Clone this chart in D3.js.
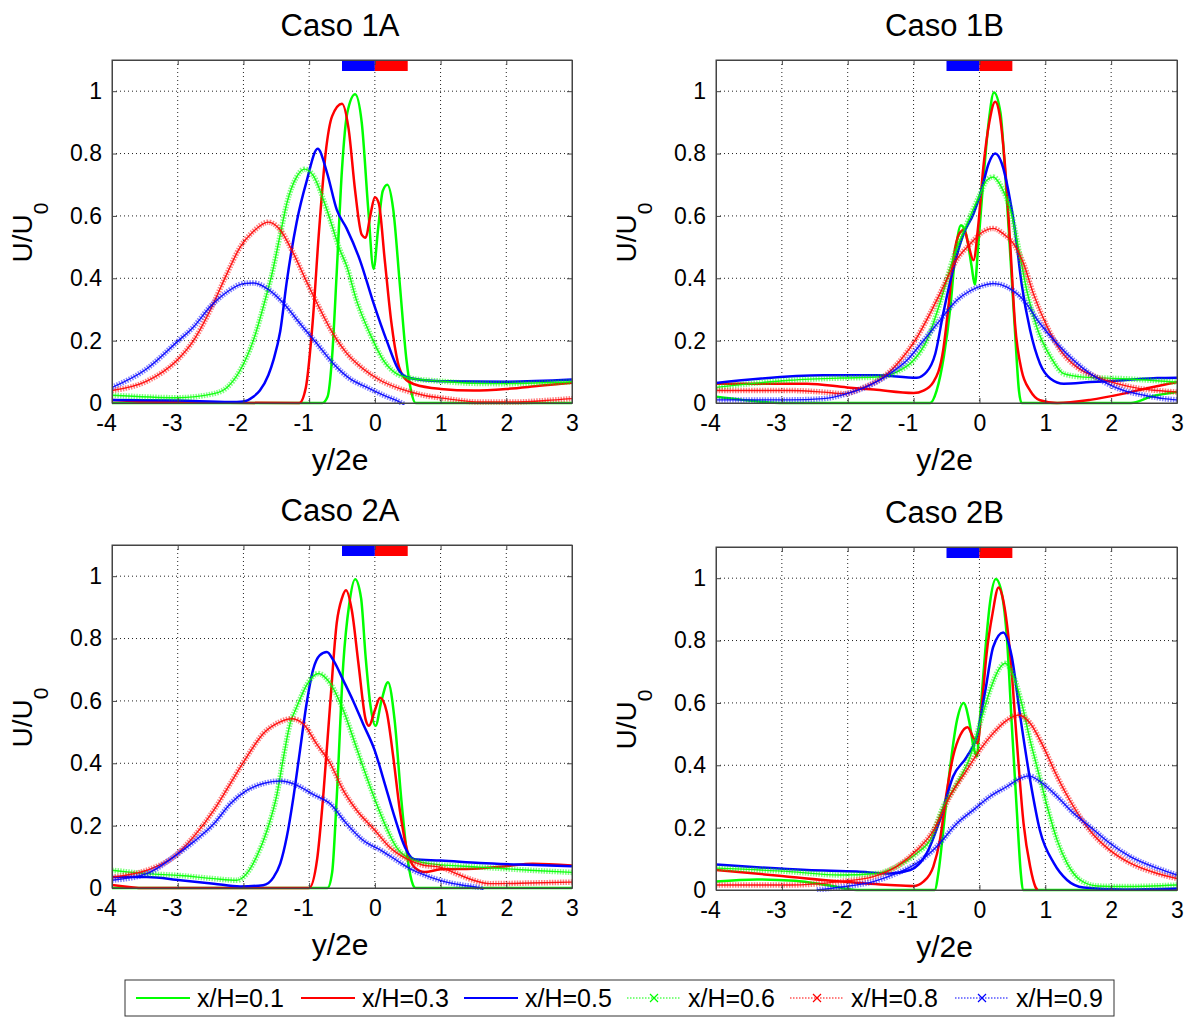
<!DOCTYPE html>
<html lang="en">
<head>
<meta charset="UTF-8">
<title>Casos 1A-2B</title>
<script src="https://d3js.org/d3.v7.min.js"></script>
<style>
    body { margin: 0; background: #fff; }
    text { font-family: "Liberation Sans", Arial, sans-serif; fill: #000; }
</style>
</head>
<body>
<svg id="chart"></svg>
<script>
    // ---- data ----
    const panelTitles = ["Caso 1A", "Caso 1B", "Caso 2A", "Caso 2B"];
    const seriesNames = ["x/H=0.1", "x/H=0.3", "x/H=0.5", "x/H=0.6", "x/H=0.8", "x/H=0.9"];
    const seriesColors = ["#00ff00", "#ff0000", "#0000ff", "#00ff00", "#ff0000", "#0000ff"];
    const seriesMarked = [false, false, false, true, true, true];
    const xTicks = [-4, -3, -2, -1, 0, 1, 2, 3];
    const yTicks = [0, 0.2, 0.4, 0.6, 0.8, 1];
    const jetBar = [-0.5, 0, 0.5];

    // Caso 1A
    const c1A_01 = [[-4,0],[-0.8,0],[-0.72,0.02],[-0.65,0.15],[-0.58,0.42],[-0.5,0.75],[-0.42,0.93],[-0.3,0.99],[-0.2,0.9],[-0.1,0.62],[-0.02,0.43],[0.05,0.56],[0.12,0.68],[0.19,0.70],[0.28,0.62],[0.38,0.38],[0.48,0.14],[0.55,0.04],[0.62,0],[3,0]];
    const c1A_03 = [[-4,0.01],[-3.5,0.005],[-1.15,0],[-1.05,0.05],[-0.95,0.25],[-0.85,0.55],[-0.75,0.8],[-0.65,0.92],[-0.5,0.96],[-0.4,0.88],[-0.3,0.68],[-0.2,0.54],[-0.14,0.53],[-0.07,0.6],[0,0.66],[0.06,0.64],[0.15,0.46],[0.25,0.26],[0.35,0.13],[0.45,0.08],[0.6,0.06],[1,0.045],[1.5,0.04],[2,0.045],[2.5,0.055],[3,0.065]];
    const c1A_05 = [[-4,0.01],[-3,0.008],[-2.2,0.003],[-2,0.005],[-1.85,0.02],[-1.75,0.04],[-1.62,0.09],[-1.54,0.14],[-1.44,0.23],[-1.34,0.39],[-1.19,0.58],[-1.04,0.71],[-0.87,0.815],[-0.73,0.74],[-0.58,0.62],[-0.43,0.56],[-0.23,0.46],[-0.02,0.32],[0.18,0.2],[0.38,0.1],[0.53,0.08],[1,0.07],[2,0.068],[3,0.075]];
    const c1A_06 = [[-4,0.025],[-3,0.017],[-2.45,0.03],[-2.25,0.05],[-2.05,0.105],[-1.85,0.2],[-1.67,0.33],[-1.57,0.41],[-1.44,0.54],[-1.34,0.64],[-1.19,0.725],[-1.07,0.75],[-0.94,0.73],[-0.73,0.62],[-0.53,0.49],[-0.43,0.44],[-0.28,0.33],[-0.07,0.22],[0.13,0.137],[0.33,0.094],[0.53,0.08],[1,0.07],[1.5,0.063],[2,0.062],[3,0.068]];
    const c1A_08 = [[-4,0.04],[-3.47,0.07],[-3.01,0.137],[-2.76,0.2],[-2.5,0.3],[-2.25,0.415],[-2.05,0.5],[-1.85,0.55],[-1.62,0.58],[-1.44,0.555],[-1.24,0.48],[-1.04,0.39],[-0.88,0.32],[-0.63,0.22],[-0.43,0.16],[-0.18,0.11],[0.08,0.073],[0.38,0.046],[0.74,0.025],[1.09,0.014],[1.6,0.003],[2.1,0.003],[2.6,0.008],[3,0.014]];
    const c1A_09 = [[-4,0.05],[-3.47,0.11],[-3.01,0.196],[-2.76,0.244],[-2.5,0.31],[-2.25,0.356],[-2,0.383],[-1.85,0.385],[-1.64,0.367],[-1.39,0.32],[-1.14,0.255],[-0.88,0.19],[-0.63,0.126],[-0.38,0.078],[-0.12,0.05],[0.13,0.025],[0.38,0.003],[0.45,-0.005]];

    // Caso 1B
    const c1B_01 = [[-4,0.02],[-3.6,0.01],[-3.2,0.002],[-3,0],[-0.75,0],[-0.65,0.04],[-0.54,0.15],[-0.44,0.31],[-0.37,0.47],[-0.28,0.57],[-0.19,0.53],[-0.12,0.44],[-0.07,0.38],[-0.02,0.5],[0.05,0.69],[0.14,0.9],[0.22,0.996],[0.32,0.93],[0.39,0.74],[0.47,0.47],[0.54,0.23],[0.6,0.04],[0.64,0],[2.3,0],[2.6,0.02],[3,0.035]];
    const c1B_03 = [[-4,0.062],[-2.62,0.062],[-2.01,0.05],[-1.6,0.043],[-1,0.032],[-0.85,0.04],[-0.7,0.067],[-0.55,0.17],[-0.47,0.31],[-0.39,0.47],[-0.3,0.545],[-0.23,0.556],[-0.17,0.51],[-0.09,0.458],[-0.02,0.565],[0.06,0.757],[0.15,0.9],[0.24,0.966],[0.31,0.92],[0.39,0.757],[0.47,0.5],[0.54,0.255],[0.64,0.105],[0.77,0.04],[0.92,0.009],[1.18,0],[1.68,0.01],[2.19,0.03],[2.6,0.05],[3,0.067]];
    const c1B_05 = [[-4,0.064],[-2.37,0.089],[-1.56,0.089],[-0.95,0.081],[-0.8,0.1],[-0.67,0.158],[-0.55,0.287],[-0.39,0.436],[-0.24,0.543],[-0.09,0.607],[0.04,0.69],[0.14,0.768],[0.24,0.8],[0.34,0.768],[0.44,0.68],[0.54,0.554],[0.64,0.383],[0.77,0.233],[0.92,0.126],[1.08,0.078],[1.28,0.062],[1.68,0.067],[2.19,0.073],[2.7,0.08],[3,0.081]];
    const c1B_06 = [[-4,0.05],[-2.88,0.073],[-2.12,0.08],[-1.56,0.083],[-1.25,0.1],[-1,0.137],[-0.8,0.2],[-0.6,0.32],[-0.39,0.47],[-0.19,0.575],[0.01,0.67],[0.11,0.714],[0.21,0.725],[0.34,0.69],[0.47,0.62],[0.59,0.5],[0.72,0.36],[0.87,0.244],[1.08,0.148],[1.28,0.094],[1.58,0.083],[2.19,0.078],[3,0.067]];
    const c1B_08 = [[-4,0.04],[-2.88,0.04],[-2.37,0.035],[-2.06,0.03],[-1.76,0.05],[-1.46,0.083],[-1.2,0.137],[-0.95,0.21],[-0.75,0.287],[-0.55,0.372],[-0.35,0.458],[-0.14,0.51],[0.06,0.55],[0.21,0.56],[0.36,0.543],[0.52,0.51],[0.67,0.447],[0.82,0.35],[1.03,0.244],[1.23,0.169],[1.48,0.115],[1.78,0.083],[2.09,0.062],[2.44,0.046],[2.7,0.04],[3,0.035]];
    const c1B_09 = [[-4,0.01],[-2.88,0.01],[-2.37,0.014],[-2.01,0.03],[-1.66,0.057],[-1.36,0.094],[-1.1,0.137],[-0.85,0.2],[-0.6,0.265],[-0.34,0.33],[-0.14,0.36],[0.06,0.377],[0.21,0.383],[0.42,0.372],[0.67,0.33],[0.92,0.255],[1.18,0.19],[1.43,0.137],[1.68,0.094],[1.94,0.062],[2.19,0.04],[2.5,0.025],[2.8,0.014],[3,0.01]];

    // Caso 2A
    const c2A_01 = [[-4,0],[-0.72,0],[-0.65,0.05],[-0.58,0.29],[-0.48,0.72],[-0.39,0.91],[-0.3,0.99],[-0.21,0.93],[-0.14,0.74],[-0.07,0.59],[0.01,0.52],[0.1,0.6],[0.2,0.66],[0.3,0.54],[0.4,0.29],[0.5,0.09],[0.58,0.01],[0.62,0],[3,0]];
    const c2A_03 = [[-4,0.01],[-3.5,0],[-1,0],[-0.88,0.09],[-0.78,0.31],[-0.68,0.59],[-0.58,0.85],[-0.5,0.93],[-0.44,0.955],[-0.35,0.89],[-0.25,0.72],[-0.14,0.54],[-0.09,0.52],[0,0.57],[0.08,0.61],[0.18,0.565],[0.28,0.42],[0.38,0.25],[0.48,0.13],[0.6,0.067],[0.76,0.051],[1,0.06],[1.5,0.062],[2,0.07],[2.4,0.078],[3,0.072]];
    const c2A_05 = [[-4,0.035],[-3.47,0.035],[-2.96,0.025],[-2.45,0.014],[-2.05,0.005],[-1.7,0.009],[-1.54,0.035],[-1.44,0.078],[-1.34,0.164],[-1.24,0.29],[-1.14,0.44],[-1.04,0.59],[-0.94,0.7],[-0.84,0.746],[-0.73,0.757],[-0.63,0.73],[-0.48,0.666],[-0.33,0.6],[-0.18,0.527],[0,0.44],[0.15,0.335],[0.3,0.228],[0.46,0.13],[0.6,0.092],[1,0.088],[1.6,0.08],[2.2,0.075],[3,0.07]];
    const c2A_06 = [[-4,0.057],[-3.47,0.046],[-2.96,0.04],[-2.45,0.03],[-2.1,0.025],[-1.95,0.046],[-1.8,0.1],[-1.64,0.185],[-1.49,0.3],[-1.39,0.42],[-1.29,0.527],[-1.19,0.58],[-1.04,0.65],[-0.86,0.688],[-0.68,0.656],[-0.48,0.57],[-0.28,0.45],[-0.07,0.324],[0.15,0.206],[0.33,0.13],[0.53,0.094],[0.84,0.078],[1.6,0.067],[2.36,0.057],[3,0.05]];
    const c2A_08 = [[-4,0.035],[-3.47,0.057],[-3.06,0.1],[-2.76,0.164],[-2.45,0.25],[-2.2,0.335],[-1.95,0.42],[-1.7,0.495],[-1.44,0.533],[-1.27,0.543],[-1.09,0.527],[-0.89,0.463],[-0.68,0.4],[-0.48,0.313],[-0.28,0.25],[0,0.185],[0.23,0.13],[0.48,0.094],[0.74,0.073],[0.99,0.067],[1.24,0.046],[1.5,0.025],[1.75,0.014],[2.36,0.016],[3,0.019]];
    const c2A_09 = [[-4,0.025],[-3.47,0.046],[-3.06,0.1],[-2.76,0.148],[-2.45,0.206],[-2.2,0.27],[-1.95,0.313],[-1.7,0.335],[-1.44,0.343],[-1.19,0.33],[-0.94,0.3],[-0.68,0.27],[-0.43,0.206],[-0.18,0.153],[0.1,0.12],[0.33,0.089],[0.58,0.057],[0.84,0.035],[1.09,0.019],[1.34,0.009],[1.6,0],[1.65,-0.005]];

    // Caso 2B
    const c2B_01 = [[-4,0.027],[-3.38,0.034],[-2.8,0.03],[-2.3,0.015],[-1.86,0],[-0.68,0],[-0.62,0.06],[-0.55,0.19],[-0.45,0.385],[-0.34,0.545],[-0.24,0.6],[-0.15,0.535],[-0.09,0.46],[-0.04,0.428],[0.01,0.556],[0.09,0.77],[0.16,0.92],[0.25,0.997],[0.34,0.95],[0.42,0.8],[0.49,0.535],[0.57,0.246],[0.63,0.05],[0.66,0],[3,0]];
    const c2B_03 = [[-4,0.064],[-3,0.045],[-2.1,0.027],[-1.36,0.016],[-1,0.013],[-0.85,0.027],[-0.7,0.075],[-0.6,0.16],[-0.5,0.31],[-0.4,0.428],[-0.29,0.497],[-0.18,0.522],[-0.09,0.487],[-0.03,0.47],[0.04,0.6],[0.11,0.76],[0.2,0.888],[0.29,0.97],[0.37,0.92],[0.47,0.75],[0.57,0.47],[0.67,0.214],[0.77,0.075],[0.85,0.01],[0.88,0]];
    const c2B_05 = [[-4,0.082],[-3.38,0.073],[-2.62,0.064],[-1.86,0.059],[-1.36,0.053],[-1.05,0.064],[-0.8,0.118],[-0.6,0.225],[-0.4,0.364],[-0.19,0.428],[-0.04,0.492],[0.09,0.64],[0.21,0.78],[0.36,0.826],[0.49,0.75],[0.62,0.556],[0.77,0.353],[0.92,0.19],[1.13,0.086],[1.33,0.032],[1.58,0.008],[2.19,0.002],[3,0.005]];
    const c2B_06 = [[-4,0.07],[-2.88,0.059],[-2.12,0.048],[-1.56,0.053],[-1.26,0.075],[-0.95,0.118],[-0.75,0.16],[-0.55,0.267],[-0.34,0.342],[-0.14,0.428],[0.01,0.535],[0.16,0.64],[0.29,0.706],[0.39,0.727],[0.52,0.684],[0.64,0.6],[0.77,0.48],[0.9,0.374],[1.03,0.267],[1.18,0.16],[1.33,0.086],[1.53,0.032],[1.79,0.013],[2.19,0.011],[3,0.016]];
    const c2B_08 = [[-4,0.016],[-2.88,0.016],[-2.12,0.027],[-1.61,0.043],[-1.26,0.075],[-0.95,0.128],[-0.7,0.19],[-0.45,0.3],[-0.19,0.385],[0.01,0.45],[0.21,0.503],[0.42,0.545],[0.59,0.561],[0.77,0.535],[0.97,0.46],[1.18,0.364],[1.43,0.267],[1.68,0.19],[1.98,0.128],[2.29,0.086],[2.7,0.053],[3,0.037]];
    const c2B_09 = [[-2.47,0],[-2.12,0.009],[-1.61,0.027],[-1.26,0.053],[-0.95,0.086],[-0.65,0.139],[-0.34,0.214],[-0.09,0.257],[0.16,0.3],[0.42,0.332],[0.62,0.358],[0.75,0.366],[0.92,0.348],[1.18,0.3],[1.43,0.246],[1.68,0.203],[1.98,0.15],[2.29,0.107],[2.7,0.07],[3,0.048]];

    const panelSeries = [
        [c1A_01, c1A_03, c1A_05, c1A_06, c1A_08, c1A_09],
        [c1B_01, c1B_03, c1B_05, c1B_06, c1B_08, c1B_09],
        [c2A_01, c2A_03, c2A_05, c2A_06, c2A_08, c2A_09],
        [c2B_01, c2B_03, c2B_05, c2B_06, c2B_08, c2B_09]
    ];

    // ---- layout ----
    const width = 1187, height = 1017;
    const boxes = [
        {left: 112, right: 572, top: 60, bottom: 403},
        {left: 716, right: 1177, top: 60, bottom: 403},
        {left: 112, right: 572, top: 545, bottom: 888},
        {left: 716, right: 1177, top: 547, bottom: 890}
    ];

    const svg = d3.select("#chart")
        .attr("width", width)
        .attr("height", height);
    svg.append("rect").attr("width", width).attr("height", height).attr("fill", "#fff");

    const FONT = '"Liberation Sans", Arial, sans-serif';

    boxes.forEach(function (p, k) {
        let x = d3.scaleLinear().domain([-4, 3]).range([p.left, p.right]);
        let y = d3.scaleLinear().domain([0, 1.1]).range([p.bottom, p.top]);
        let g = svg.append("g");

        // grid
        g.selectAll(".gx").data(xTicks.slice(1, -1)).join("line")
            .attr("x1", d => x(d)).attr("x2", d => x(d))
            .attr("y1", p.top).attr("y2", p.bottom)
            .attr("stroke", "#222").attr("stroke-dasharray", "1,3");
        g.selectAll(".gy").data(yTicks.slice(1)).join("line")
            .attr("x1", p.left).attr("x2", p.right)
            .attr("y1", d => y(d)).attr("y2", d => y(d))
            .attr("stroke", "#222").attr("stroke-dasharray", "1,3");

        // clip for curves
        let clipId = "clip" + k;
        svg.append("clipPath").attr("id", clipId)
            .append("rect")
            .attr("x", p.left).attr("y", p.top)
            .attr("width", p.right - p.left).attr("height", p.bottom - p.top + 2);

        let line = d3.line()
            .x(d => x(d[0]))
            .y(d => y(d[1]))
            .curve(d3.curveMonotoneX);

        let curves = g.append("g").attr("clip-path", `url(#${clipId})`);
        panelSeries[k].forEach(function (data, i) {
            if (seriesMarked[i]) {
                // dense "x" markers read as a fuzzy band
                curves.append("path").datum(data)
                    .attr("d", line).attr("fill", "none")
                    .attr("stroke", seriesColors[i])
                    .attr("stroke-width", 5.5)
                    .attr("stroke-opacity", 0.5)
                    .attr("stroke-dasharray", "1.5,1.2");
                curves.append("path").datum(data)
                    .attr("d", line).attr("fill", "none")
                    .attr("stroke", seriesColors[i])
                    .attr("stroke-width", 1.4)
                    .attr("stroke-opacity", 0.9);
            } else {
                curves.append("path").datum(data)
                    .attr("d", line).attr("fill", "none")
                    .attr("stroke", seriesColors[i])
                    .attr("stroke-width", 2.5);
            }
        });

        // blue / red bar under the top edge
        g.append("rect")
            .attr("x", x(jetBar[0])).attr("width", x(jetBar[1]) - x(jetBar[0]))
            .attr("y", p.top + 1).attr("height", 10).attr("fill", "#0000ff");
        g.append("rect")
            .attr("x", x(jetBar[1])).attr("width", x(jetBar[2]) - x(jetBar[1]))
            .attr("y", p.top + 1).attr("height", 10).attr("fill", "#ff0000");

        // axes
        let xAxis = d3.axisBottom(x).tickValues(xTicks).tickFormat(d => String(d))
            .tickSizeInner(-5).tickSizeOuter(0).tickPadding(12);
        let ax = g.append("g").attr("transform", `translate(0,${p.bottom})`).call(xAxis);
        ax.attr("font-size", 23).attr("font-family", FONT);
        ax.selectAll("text").attr("dx", d => d < 0 ? -6 : 0);

        let yAxis = d3.axisLeft(y).tickValues(yTicks).tickFormat(d => String(d))
            .tickSizeInner(-5).tickSizeOuter(0).tickPadding(10);
        let ay = g.append("g").attr("transform", `translate(${p.left},0)`).call(yAxis);
        ay.attr("font-size", 23).attr("font-family", FONT);

        g.append("g").attr("transform", `translate(0,${p.top})`)
            .call(d3.axisTop(x).tickValues(xTicks).tickFormat("").tickSizeInner(-5).tickSizeOuter(0));
        g.append("g").attr("transform", `translate(${p.right},0)`)
            .call(d3.axisRight(y).tickValues(yTicks).tickFormat("").tickSizeInner(-5).tickSizeOuter(0));
        g.selectAll(".domain, .tick line").attr("stroke", "#444");

        g.append("rect")
            .attr("x", p.left).attr("y", p.top)
            .attr("width", p.right - p.left).attr("height", p.bottom - p.top)
            .attr("fill", "none").attr("stroke", "#444");

        // titles and labels
        let cx = (p.left + p.right) / 2;
        g.append("text").attr("x", cx - 2).attr("y", p.top - 24)
            .attr("text-anchor", "middle").attr("font-size", 31)
            .text(panelTitles[k]);
        g.append("text").attr("x", cx - 2).attr("y", p.bottom + 67)
            .attr("text-anchor", "middle").attr("font-size", 30)
            .text("y/2e");
        let yl = g.append("text")
            .attr("transform", `translate(${p.left - 80},${(p.top + p.bottom) / 2 + 1}) rotate(-90)`)
            .attr("text-anchor", "middle").attr("font-size", 28);
        yl.append("tspan").text("U/U");
        yl.append("tspan").attr("dy", 16).attr("font-size", 21).text("0");
    });

    // legend
    const legendStarts = [136, 301, 464, 627, 790, 955];
    let lg = svg.append("g");
    lg.append("rect").attr("x", 125).attr("y", 980).attr("width", 989).attr("height", 36)
        .attr("fill", "#fff").attr("stroke", "#333");
    seriesNames.forEach(function (name, i) {
        let lx = legendStarts[i], ly = 998;
        let seg = lg.append("line")
            .attr("x1", lx).attr("x2", lx + 54).attr("y1", ly).attr("y2", ly)
            .attr("stroke", seriesColors[i]);
        if (seriesMarked[i]) {
            seg.attr("stroke-width", 1.2).attr("stroke-dasharray", "1.5,1.5");
            let m = lx + 27;
            lg.append("path")
                .attr("d", `M${m - 4},${ly - 4}L${m + 4},${ly + 4}M${m - 4},${ly + 4}L${m + 4},${ly - 4}`)
                .attr("stroke", seriesColors[i]).attr("stroke-width", 1.2);
        } else {
            seg.attr("stroke-width", 2);
        }
        lg.append("text").attr("x", lx + 61).attr("y", ly + 9)
            .attr("font-size", 25).text(name);
    });
</script>
</body>
</html>
